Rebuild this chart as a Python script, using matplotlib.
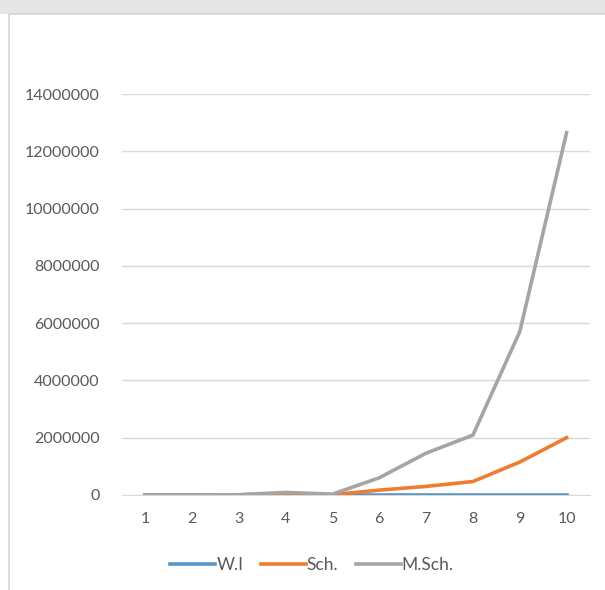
import matplotlib
matplotlib.use('Agg')
import matplotlib.pyplot as plt
from matplotlib.patches import Rectangle

# data
x_labels = ['1', '2', '3', '4', '5', '6', '7', '8', '9', '10']
wi = [0, 0, 0, 0, 0, 0, 0, 0, 0, 0]
sch = [0, 0, 5000, 60000, 10000, 170000, 300000, 470000, 1150000, 2000000]
msch = [0, 0, 10000, 90000, 30000, 600000, 1460000, 2090000, 5700000, 12650000]
y_ticks = [0, 2000000, 4000000, 6000000, 8000000, 10000000, 12000000, 14000000]

plt.rcParams['font.family'] = ['Lato', 'DejaVu Sans']

fig = plt.figure(figsize=(6.05, 5.9), dpi=100)

# grey strip at the top and the chart frame
fig.patches.append(Rectangle((0, 1 - 14 / 590), 1, 14 / 590, transform=fig.transFigure,
                             facecolor='#e5e6e8', edgecolor='none', zorder=-10))
fig.patches.append(Rectangle((9 / 605, -0.05), 1.0, 1.05 - 14 / 590, transform=fig.transFigure,
                             facecolor='white', edgecolor='#d4d4d4', lw=1.2, zorder=-10))

ax = fig.add_axes([121.6 / 605, 1 - 495 / 590, (590 - 121.6) / 605, (495 - 94) / 590])
ax.set_facecolor('none')

xs = list(range(1, len(x_labels) + 1))
ax.plot(xs, wi, color='#5b96c8', lw=2.6, label='W.I', zorder=3)
ax.plot(xs, sch, color='#ed7d31', lw=2.6, label='Sch.', zorder=4)
ax.plot(xs, msch, color='#a5a5a5', lw=2.6, label='M.Sch.', zorder=5)

ax.set_xlim(0.5, len(x_labels) + 0.5)
ax.set_ylim(0, 14000000)
ax.set_xticks(xs)
ax.set_xticklabels(x_labels)
ax.set_yticks(y_ticks)
ax.set_yticklabels([str(v) for v in y_ticks])
ax.yaxis.grid(True, color='#d9d9d9', lw=1)
ax.set_axisbelow(True)
for s in ['top', 'right', 'left']:
    ax.spines[s].set_visible(False)
ax.spines['bottom'].set_color('#d9d9d9')
ax.tick_params(axis='both', length=0, labelsize=11.5, labelcolor='#595959')
ax.tick_params(axis='x', pad=12)
ax.tick_params(axis='y', pad=16)

fig.legend(loc='center', bbox_to_anchor=(312 / 605, 1 - 565 / 590), ncol=3, frameon=False,
           fontsize=12.5, labelcolor='#595959', handlelength=2.6, handletextpad=0.05,
           columnspacing=1.0)

fig.savefig('out.png', dpi=100)
